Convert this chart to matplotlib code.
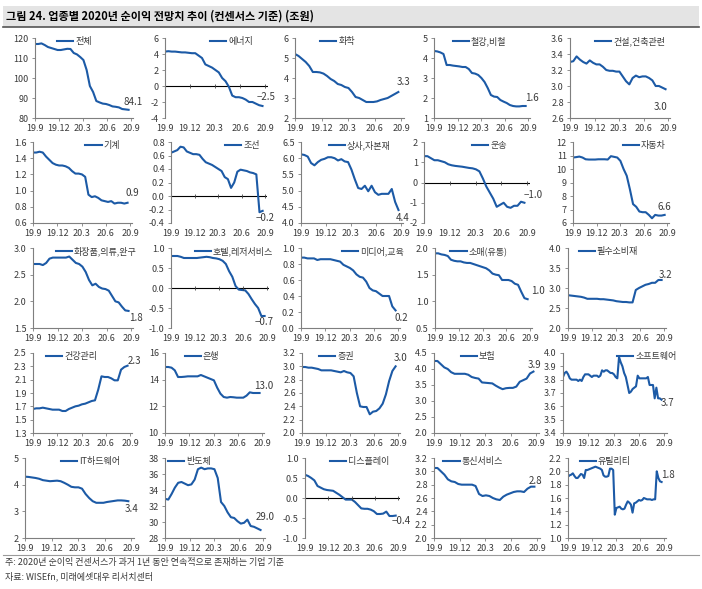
import matplotlib.pyplot as plt
import numpy as np
from matplotlib.lines import Line2D
from matplotlib.patches import Rectangle
from matplotlib.ticker import FormatStrFormatter

plt.rcParams['font.family'] = ['Liberation Sans Narrow', 'Noto Sans CJK KR', 'DejaVu Sans']

TITLE = '그림 24. 업종별 2020년 순이익 전망치 추이 (컨센서스 기준) (조원)'
NOTE = '주: 2020년 순이익 컨센서스가 과거 1년 동안 연속적으로 존재하는 기업 기준'
SOURCE = '자료: WISEfn, 미래에셋대우 리서치센터'

XTICKS = [0, 3, 6, 9, 12]
XLABELS = ['19.9', '19.12', '20.3', '20.6', '20.9']

# weekly-ish consensus values, 2019.9 -> 2020.9 (조원)
total = [117, 117, 117.3, 116.5, 115.5, 115, 114.5, 114, 114, 114.3, 114.6, 114.5, 112.5, 111.8, 110.5,
         109, 104, 96, 93, 88.5, 87.8, 87.2, 87, 86.5, 85.8, 85.6, 85.3, 84.5, 84.3, 84.1]
energy = [4.3, 4.35, 4.3, 4.3, 4.25, 4.2, 4.2, 4.15, 4.1, 4.1, 3.8, 3.5, 2.7, 2.5, 2.3,
          2.0, 1.7, 1.0, 0.6, -0.1, -1.2, -1.4, -1.4, -1.5, -1.7, -2.0, -2.0, -2.2, -2.4, -2.5]
chem = [5.2, 5.1, 4.95, 4.8, 4.6, 4.3, 4.3, 4.28, 4.22, 4.1, 3.95, 3.85, 3.7, 3.65, 3.55,
        3.5, 3.3, 3.05, 3.0, 2.9, 2.8, 2.8, 2.8, 2.83, 2.9, 2.95, 3.0, 3.1, 3.2, 3.3]
steel = [4.35, 4.33, 4.28, 4.2, 3.65, 3.65, 3.62, 3.6, 3.58, 3.55, 3.55, 3.45, 3.25, 3.22, 3.15,
         3.0, 2.8, 2.5, 2.15, 2.07, 2.05, 1.9, 1.82, 1.75, 1.65, 1.6, 1.58, 1.58, 1.6, 1.6]
constr = [3.3, 3.31, 3.37, 3.33, 3.3, 3.28, 3.32, 3.29, 3.27, 3.27, 3.24, 3.2, 3.19, 3.19, 3.18,
          3.18, 3.12, 3.06, 3.02, 3.1, 3.13, 3.11, 3.12, 3.12, 3.1, 3.07, 3.0, 3.0, 2.98, 2.96]
machine = [1.47, 1.47, 1.48, 1.47, 1.42, 1.38, 1.34, 1.32, 1.31, 1.31, 1.3, 1.28, 1.24, 1.21, 1.21,
           1.2, 1.17, 0.95, 0.92, 0.93, 0.91, 0.88, 0.87, 0.86, 0.87, 0.84, 0.85, 0.85, 0.84, 0.85]
ship = [0.64, 0.66, 0.68, 0.73, 0.72, 0.66, 0.64, 0.62, 0.62, 0.61, 0.55, 0.5, 0.48, 0.46, 0.43,
        0.4, 0.37, 0.28, 0.25, 0.12, 0.2, 0.36, 0.39, 0.38, 0.37, 0.35, 0.34, 0.32, -0.24, -0.22]
trade = [6.12, 6.1, 6.05, 5.85, 5.78, 5.88, 5.95, 5.98, 6.03, 6.03, 6.0, 5.93, 5.97, 5.9, 5.88,
         5.65, 5.35, 5.08, 5.05, 5.15, 4.98, 5.15, 4.95, 4.87, 4.9, 4.9, 4.9, 5.05, 4.65, 4.4]
transport = [1.3, 1.3, 1.2, 1.1, 1.1, 1.05, 1.0, 0.9, 0.85, 0.82, 0.8, 0.78, 0.75, 0.72, 0.7,
             0.65, 0.55, 0.2, -0.2, -0.5, -0.8, -1.2, -1.1, -1.0, -1.2, -1.25, -1.15, -1.15, -0.95, -1.0]
auto = [10.85, 10.88, 10.92, 10.85, 10.72, 10.7, 10.7, 10.7, 10.72, 10.72, 10.72, 10.7, 10.95, 10.9, 10.85,
        10.6, 10.0, 9.5, 8.5, 7.4, 7.2, 6.85, 6.8, 6.8, 6.6, 6.35, 6.6, 6.55, 6.55, 6.6]
cosm = [2.7, 2.7, 2.7, 2.68, 2.72, 2.8, 2.82, 2.82, 2.82, 2.82, 2.82, 2.84, 2.78, 2.72, 2.7,
        2.65, 2.55, 2.4, 2.3, 2.33, 2.27, 2.24, 2.23, 2.2, 2.1, 2.0, 1.98, 1.9, 1.83, 1.82]
hotel = [0.8, 0.8, 0.8, 0.78, 0.75, 0.75, 0.75, 0.75, 0.75, 0.76, 0.77, 0.78, 0.77, 0.75, 0.74,
         0.72, 0.68, 0.6, 0.42, 0.28, 0.05, -0.04, -0.05, -0.06, -0.15, -0.28, -0.4, -0.5, -0.7, -0.7]
media = [0.88, 0.88, 0.87, 0.87, 0.87, 0.85, 0.86, 0.86, 0.86, 0.86, 0.85, 0.84, 0.83, 0.79, 0.77,
         0.75, 0.72, 0.67, 0.64, 0.63, 0.58, 0.5, 0.47, 0.46, 0.43, 0.4, 0.4, 0.4, 0.27, 0.22]
retail = [1.9, 1.9, 1.88, 1.87, 1.85, 1.78, 1.76, 1.75, 1.75, 1.73, 1.72, 1.72, 1.7, 1.68, 1.66,
          1.64, 1.62, 1.58, 1.52, 1.5, 1.49, 1.4, 1.4, 1.4, 1.38, 1.33, 1.31, 1.18, 1.06, 1.04]
staples = [2.82, 2.81, 2.8, 2.79, 2.78, 2.76, 2.73, 2.73, 2.73, 2.73, 2.72, 2.72, 2.71, 2.7, 2.69,
           2.67, 2.66, 2.65, 2.65, 2.64, 2.64, 2.95, 3.0, 3.04, 3.08, 3.1, 3.13, 3.13, 3.2, 3.2]
health = [1.66, 1.67, 1.67, 1.68, 1.67, 1.66, 1.65, 1.65, 1.65, 1.63, 1.63, 1.66, 1.68, 1.7, 1.71,
          1.73, 1.74, 1.76, 1.78, 1.79, 1.95, 2.15, 2.14, 2.14, 2.12, 2.09, 2.09, 2.25, 2.29, 2.31]
bank = [14.95, 14.95, 14.9, 14.7, 14.2, 14.2, 14.22, 14.25, 14.25, 14.25, 14.25, 14.35, 14.25, 14.15, 14.05,
        13.95, 13.4, 12.95, 12.7, 12.65, 12.7, 12.68, 12.65, 12.65, 12.65, 12.8, 13.05, 13.0, 13.0, 13.0]
broker = [2.99, 2.99, 2.98, 2.98, 2.97, 2.96, 2.94, 2.94, 2.94, 2.94, 2.93, 2.92, 2.91, 2.93, 2.91,
          2.9, 2.85, 2.6, 2.4, 2.39, 2.39, 2.28, 2.32, 2.33, 2.37, 2.44, 2.58, 2.78, 2.93, 3.0]
insur = [4.25, 4.25, 4.15, 4.05, 4.0, 3.9, 3.85, 3.85, 3.85, 3.85, 3.82, 3.75, 3.72, 3.7, 3.58,
         3.57, 3.56, 3.55, 3.48, 3.42, 3.37, 3.4, 3.41, 3.41, 3.45, 3.6, 3.65, 3.7, 3.86, 3.92]
software = [3.82, 3.85, 3.86, 3.84, 3.81, 3.8, 3.8, 3.8, 3.8, 3.79,
            3.8, 3.79, 3.82, 3.84, 3.84, 3.84, 3.83, 3.82, 3.83, 3.83,
            3.83, 3.82, 3.83, 3.87, 3.86, 3.87, 3.87, 3.86, 3.85, 3.85,
            3.84, 3.82, 3.81, 3.97, 3.93, 3.9, 3.85, 3.82, 3.76, 3.7,
            3.71, 3.73, 3.74, 3.75, 3.83, 3.81, 3.81, 3.81, 3.81, 3.81,
            3.82, 3.76, 3.76, 3.76, 3.66, 3.74, 3.66, 3.66, 3.65]
it_hw = [4.3, 4.29, 4.27, 4.25, 4.22, 4.17, 4.15, 4.13, 4.14, 4.15, 4.13, 4.07, 4.0, 3.92, 3.9,
         3.9, 3.85, 3.65, 3.5, 3.38, 3.32, 3.32, 3.32, 3.35, 3.37, 3.39, 3.41, 3.41, 3.4, 3.38]
semi = [32.9, 32.8, 33.5, 34.3, 34.9, 35.0, 34.8, 34.6, 34.7, 35.3, 36.6, 36.8, 36.6, 36.7, 36.7,
        36.6, 35.5, 32.5, 32.0, 31.2, 30.6, 30.5, 30.1, 29.8, 29.9, 30.3, 29.5, 29.4, 29.2, 29.0]
display = [0.58, 0.55, 0.5, 0.44, 0.3, 0.26, 0.22, 0.2, 0.19, 0.18, 0.13, 0.08, 0.02, -0.04, -0.04,
           -0.04, -0.1, -0.18, -0.26, -0.27, -0.27, -0.29, -0.33, -0.4, -0.4, -0.39, -0.34, -0.45, -0.45, -0.44]
telecom = [3.05, 3.05, 3.0, 2.95, 2.88, 2.85, 2.84, 2.81, 2.8, 2.8, 2.8, 2.8, 2.78, 2.66, 2.63,
           2.64, 2.63, 2.6, 2.58, 2.57, 2.62, 2.65, 2.67, 2.69, 2.7, 2.7, 2.69, 2.74, 2.77, 2.77]
utility = [1.92, 1.94, 1.95, 1.97, 1.93, 1.9, 1.9, 1.93, 1.96, 1.95,
           1.9, 2.02, 2.02, 2.03, 2.04, 2.05, 2.06, 2.07, 2.06, 2.05,
           2.04, 2.02, 1.94, 1.92, 1.92, 1.93, 2.04, 2.04, 2.02, 1.35,
           1.45, 1.46, 1.47, 1.44, 1.43, 1.44, 1.5, 1.55, 1.53, 1.5,
           1.38, 1.52, 1.53, 1.55, 1.57, 1.56, 1.57, 1.6, 1.59, 1.58,
           1.58, 1.58, 1.57, 1.58, 1.58, 2.0, 1.9, 1.85, 1.84]

NAMES = ['전체', '에너지', '화학', '철강,비철', '건설,건축관련',
         '기계', '조선', '상사,자본재', '운송', '자동차',
         '화장품,의류,완구', '호텔,레저서비스', '미디어,교육', '소매(유통)', '필수소비재',
         '건강관리', '은행', '증권', '보험', '소프트웨어',
         'IT하드웨어', '반도체', '디스플레이', '통신서비스', '유틸리티']
SERIES = [total, energy, chem, steel, constr,
          machine, ship, trade, transport, auto,
          cosm, hotel, media, retail, staples,
          health, bank, broker, insur, software,
          it_hw, semi, display, telecom, utility]
END_LABELS = ['84.1', '−2.5', '3.3', '1.6', '3.0',
              '0.9', '−0.2', '4.4', '−1.0', '6.6',
              '1.8', '−0.7', '0.2', '1.0', '3.2',
              '2.3', '13.0', '3.0', '3.9', '3.7',
              '3.4', '29.0', '−0.4', '2.8', '1.8']
# y axis: (min, max, step, decimals)
YAXES = [(80, 120, 10, 0), (-4, 6, 2, 0), (2, 6, 1, 0), (1, 5, 1, 0), (2.6, 3.6, 0.2, 1),
         (0.6, 1.6, 0.2, 1), (-0.4, 0.8, 0.2, 1), (4.0, 6.5, 0.5, 1), (-2, 2, 1, 0), (6, 12, 1, 0),
         (1.5, 3.0, 0.5, 1), (-1.0, 1.0, 0.5, 1), (0.0, 1.0, 0.2, 1), (0.5, 2.0, 0.5, 1), (2.0, 4.0, 0.5, 1),
         (1.3, 2.5, 0.2, 1), (10, 16, 2, 0), (2.0, 3.2, 0.2, 1), (2.0, 4.5, 0.5, 1), (3.4, 4.0, 0.1, 1),
         (2, 5, 1, 0), (28, 38, 2, 0), (-1.0, 1.0, 0.5, 1), (2.0, 3.2, 0.2, 1), (1.0, 2.2, 0.2, 1)]

# layout in pixels
W, H = 702, 589
COL_LEFT = [[35, 165, 295, 434, 570], [33, 171, 301, 424, 573], [33, 171, 301, 435, 568],
            [33, 165, 302, 434, 563], [25, 165, 305, 434, 568]]
COL_X209 = [[131, 265, 401, 528, 668], [130, 265, 401, 527, 667], [131, 267, 398, 530, 664],
            [130, 262, 398, 536, 664], [131, 263, 398, 537, 664]]
ROW_TOP = [38, 142, 248, 353, 458]
ROW_BOT = [118, 223, 328, 433, 538]
LEGEND_X = [0.40, 0.65, 0.39, 0.47, 0.60,
            0.70, 0.74, 0.57, 0.62, 0.74,
            0.63, 0.64, 0.72, 0.45, 0.41,
            0.39, 0.37, 0.35, 0.42, 0.81,
            0.60, 0.24, 0.57, 0.37, 0.38]
# end label offset from last point, pixels (right, down)
LABEL_OFF = [(5, -8), (4, -9), (5, -10), (6, -8), (-5, 18),
             (5, -10), (2, 7), (4, 8), (9, -8), (0, -8),
             (7, 7), (0, 6), (6, 8), (10, -8), (4, -5),
             (7, -5), (4, -7), (5, -8), (1, -7), (6, 3),
             (3, 8), (5, -13), (6, 5), (1, -6), (6, -7)]

LINE_C = '#1c5aa6'
AXIS_C = '#7f7f7f'
TEXT_C = '#3a3a3a'
XMAX = 12.3
X_END = 11.7

fig = plt.figure(figsize=(W / 100, H / 100), dpi=100)

# title band
fig.add_artist(Rectangle((3 / W, 1 - 27 / H), 696 / W, 21 / H, transform=fig.transFigure,
                         facecolor='#e4e4e4', edgecolor='none', zorder=0))
fig.add_artist(Line2D([3 / W, 699 / W], [1 - 27 / H] * 2, color='#555555', lw=1.2))
fig.text(6 / W, 1 - 16.5 / H, TITLE, fontsize=8, fontweight='bold', va='center',
         family=['Noto Sans CJK KR'])

for i, (name, vals) in enumerate(zip(NAMES, SERIES)):
    r, c = divmod(i, 5)
    left, x209 = COL_LEFT[r][c], COL_X209[r][c]
    wpx = (x209 - left) * XMAX / 12
    ax = fig.add_axes([left / W, 1 - ROW_BOT[r] / H, wpx / W, (ROW_BOT[r] - ROW_TOP[r]) / H])
    x = np.linspace(0, X_END, len(vals))
    ax.plot(x, vals, color=LINE_C, lw=1.5, label=name, solid_joinstyle='round')

    lo, hi, step, dec = YAXES[i]
    ax.set_ylim(lo, hi)
    ax.set_yticks(np.arange(lo, hi + step / 2, step))
    ax.yaxis.set_major_formatter(FormatStrFormatter(f'%.{dec}f'))
    ax.set_xlim(0, XMAX)
    ax.set_xticks(XTICKS)
    ax.set_xticklabels(XLABELS)

    for s in ['top', 'right']:
        ax.spines[s].set_visible(False)
    for s in ['left', 'bottom']:
        ax.spines[s].set_color(AXIS_C)
        ax.spines[s].set_linewidth(0.8)
    ax.tick_params(axis='both', labelsize=6.5, colors=AXIS_C, labelcolor=TEXT_C,
                   length=2.5, width=0.6, pad=2)
    ax.patch.set_alpha(0)

    if lo < 0 < hi:
        ax.spines['bottom'].set_visible(False)
        ax.tick_params(axis='x', length=0, pad=4.5)
        ax.axhline(0, color='black', lw=0.8, zorder=1)
        ax.plot(XTICKS, [0] * len(XTICKS), ls='none', marker='|', ms=2.2, mew=0.6,
                color='#444444', clip_on=False)

    dx, dy = LABEL_OFF[i]
    ax.annotate(END_LABELS[i], xy=(x[-1], vals[-1]), xytext=(dx * 0.72, -dy * 0.72),
                textcoords='offset points', ha='center', va='center', fontsize=7,
                color=TEXT_C, annotation_clip=False)

    ax.legend(loc='center', bbox_to_anchor=(LEGEND_X[i], 0.96), frameon=False,
              fontsize=6.5, handlelength=1.8, handletextpad=0.2, borderpad=0,
              borderaxespad=0, labelcolor=TEXT_C)

fig.add_artist(Line2D([3 / W, 699 / W], [1 - 555 / H] * 2, color='#9a9a9a', lw=0.8))
fig.text(5 / W, 1 - 563 / H, NOTE, fontsize=6.5, va='center', color=TEXT_C)
fig.text(5 / W, 1 - 576 / H, SOURCE, fontsize=6.5, va='center', color=TEXT_C)

fig.savefig('out.png', dpi=100)
